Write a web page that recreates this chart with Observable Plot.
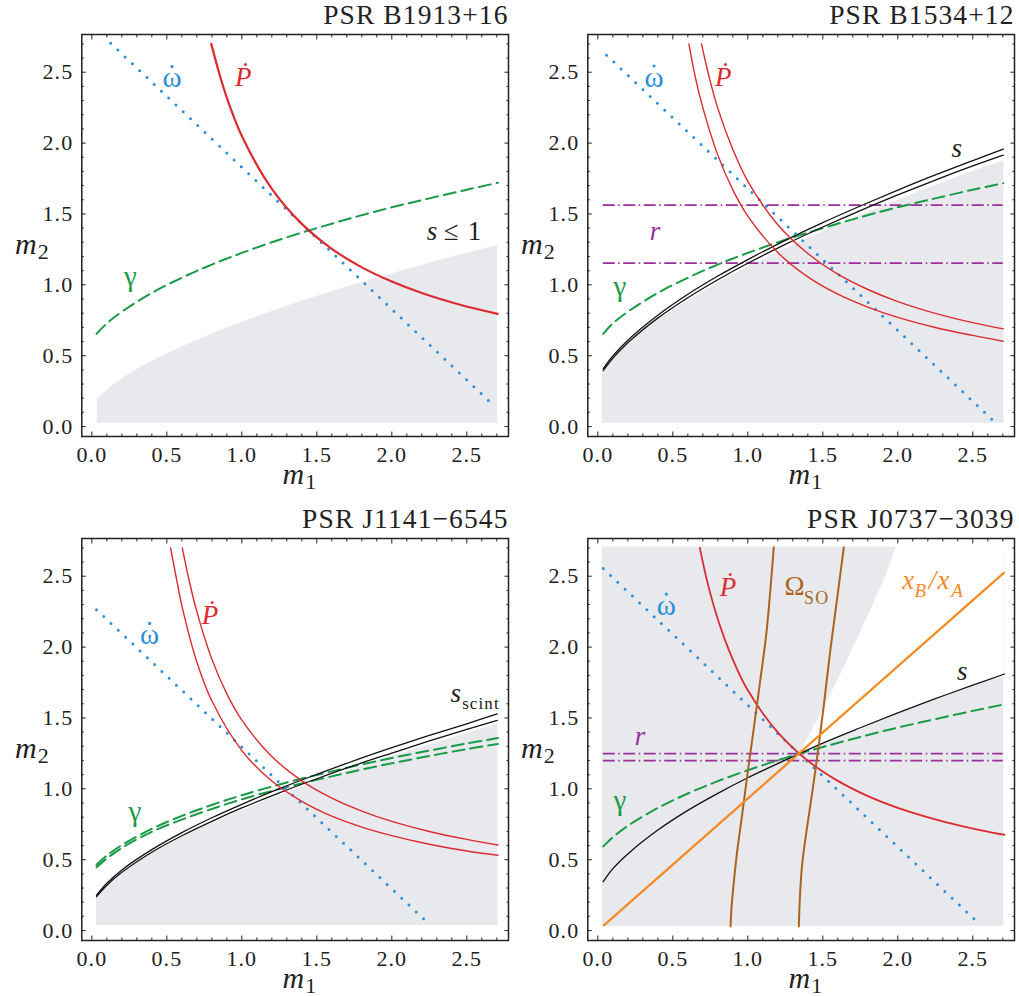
<!DOCTYPE html>
<html><head><meta charset="utf-8">
<script src="https://cdn.jsdelivr.net/npm/d3@7"></script>
<script src="https://cdn.jsdelivr.net/npm/@observablehq/plot@0.6"></script>
<style>
body{margin:0;background:#fff;}
#wrap{position:relative;width:1019px;height:996px;overflow:hidden;background:#fff;}
.panel{position:absolute;}
</style></head><body><div id="wrap"></div>
<script>
// ---------- shared axes ----------
const majorTicks = [0, 0.5, 1, 1.5, 2, 2.5];
const minorTicks = [0.1,0.2,0.3,0.4,0.6,0.7,0.8,0.9,1.1,1.2,1.3,1.4,1.6,1.7,1.8,1.9,2.1,2.2,2.3,2.4,2.6,2.7];
const xDomain = [-0.067, 2.778];
const yDomain = [-0.07, 2.766];

// ---------- PSR B1913+16 ----------
const b1913_shade_m1 = [0.036,0.06,0.1,0.2,0.4,0.6,0.8,1.0,1.25,1.5,1.75,2.0,2.25,2.5,2.705];
const b1913_shade_m2 = [0.188,0.216,0.255,0.335,0.461,0.56,0.653,0.735,0.83,0.917,1.0,1.077,1.152,1.223,1.278];
const b1913_shade_floor = 0.024;
const b1913_Pdot_m1 = [0.796,0.85,0.9,1.0,1.2,1.4,1.6,1.8,2.0,2.2,2.45,2.705];
const b1913_Pdot_m2 = [2.70,2.49,2.32,2.05,1.677,1.43,1.254,1.123,1.023,0.942,0.861,0.795];
const b1913_omdot_m1 = [0.125, 2.676];
const b1913_omdot_m2 = [2.705, 0.152];
const b1913_gamma_m1 = [0.031,0.1,0.2,0.4,0.6,0.8,1.0,1.25,1.5,1.75,2.0,2.25,2.5,2.707];
const b1913_gamma_m2 = [0.654,0.728,0.81,0.943,1.05,1.143,1.225,1.318,1.40,1.477,1.547,1.61,1.671,1.72];
const b1913_label_x = {omdot: 0.538, Pdot: 1.013, gamma: 0.26, s: 2.271, le: 2.347};
const b1913_label_y = {omdot: 2.395, Pdot: 2.406, gamma: 0.995, s: 1.313, le: 1.313};

// ---------- PSR B1534+12 ----------
const b1534_shade_m1 = [0.029,0.06,0.1,0.2,0.4,0.6,0.8,1.0,1.25,1.5,1.75,2.0,2.25,2.5,2.707];
const b1534_shade_m2 = [0.367,0.412,0.465,0.573,0.744,0.886,1.011,1.125,1.252,1.376,1.49,1.597,1.70,1.80,1.873];
const b1534_shade_floor = 0.024;
const b1534_s_m1 = [0.036,0.1,0.2,0.4,0.6,0.8,1.0,1.25,1.5,1.75,2.0,2.25,2.5,2.703];
const b1534_sHi_m2 = [0.408,0.498,0.609,0.785,0.933,1.062,1.178,1.314,1.439,1.556,1.668,1.775,1.876,1.958];
const b1534_sLo_m2 = [0.394,0.481,0.591,0.765,0.909,1.036,1.152,1.285,1.408,1.524,1.634,1.739,1.839,1.915];
const b1534_PdotA_m1 = [0.607,0.65,0.7,0.8,0.9,1.0,1.2,1.4,1.6,1.8,2.0,2.25,2.5,2.703];
const b1534_PdotA_m2 = [2.70,2.464,2.25,1.915,1.67,1.485,1.228,1.056,0.934,0.843,0.77,0.699,0.643,0.602];
const b1534_PdotB_m1 = [0.691,0.74,0.8,0.9,1.0,1.2,1.4,1.6,1.8,2.0,2.25,2.5,2.703];
const b1534_PdotB_m2 = [2.70,2.475,2.245,1.955,1.73,1.424,1.221,1.075,0.967,0.882,0.799,0.733,0.689];
const b1534_omdot_m1 = [0.058, 2.652];
const b1534_omdot_m2 = [2.62, 0.026];
const b1534_gamma_m1 = [0.036,0.1,0.2,0.4,0.6,0.8,1.0,1.25,1.5,1.75,2.0,2.25,2.5,2.703];
const b1534_gamma_m2 = [0.654,0.728,0.81,0.943,1.05,1.143,1.225,1.318,1.40,1.477,1.547,1.61,1.671,1.717];
const b1534_r_m1 = [0.036, 2.703];
const b1534_r_m2 = [1.562, 1.153];
const b1534_label_x = {omdot: 0.378, Pdot: 0.84, s: 2.396, r: 0.385, gamma: 0.151};
const b1534_label_y = {omdot: 2.399, Pdot: 2.406, s: 1.901, r: 1.317, gamma: 0.924};

// ---------- PSR J1141-6545 ----------
const j1141_shade_m1 = [0.031,0.06,0.1,0.2,0.4,0.6,0.8,1.0,1.25,1.5,1.75,2.0,2.25,2.5,2.707];
const j1141_shade_m2 = [0.23,0.267,0.311,0.40,0.54,0.654,0.755,0.847,0.951,1.05,1.141,1.229,1.311,1.391,1.458];
const j1141_shade_floor = 0.036;
const j1141_s_m1 = [0.031,0.1,0.2,0.4,0.6,0.8,1.0,1.25,1.5,1.75,2.0,2.25,2.5,2.703];
const j1141_sHi_m2 = [0.25,0.334,0.428,0.571,0.691,0.796,0.891,1.001,1.102,1.199,1.29,1.377,1.459,1.528];
const j1141_sLo_m2 = [0.239,0.32,0.411,0.553,0.669,0.771,0.865,0.972,1.071,1.165,1.252,1.338,1.419,1.483];
const j1141_gamma_m1 = [0.031,0.1,0.2,0.4,0.6,0.8,1.0,1.25,1.5,1.75,2.0,2.25,2.5,2.707];
const j1141_gammaHi_m2 = [0.465,0.529,0.603,0.718,0.809,0.886,0.955,1.03,1.098,1.16,1.218,1.27,1.32,1.358];
const j1141_gammaLo_m2 = [0.446,0.509,0.583,0.697,0.783,0.858,0.926,0.999,1.064,1.124,1.18,1.232,1.28,1.316];
const j1141_omdot_m1 = [0.031, 2.241];
const j1141_omdot_m2 = [2.264, 0.053];
const j1141_PdotA_m1 = [0.525,0.56,0.6,0.7,0.8,1.0,1.2,1.4,1.6,1.8,2.0,2.25,2.5,2.707];
const j1141_PdotA_m2 = [2.70,2.505,2.293,1.895,1.621,1.27,1.055,0.912,0.807,0.73,0.67,0.609,0.561,0.531];
const j1141_PdotB_m1 = [0.603,0.65,0.7,0.8,0.9,1.0,1.2,1.4,1.6,1.8,2.0,2.25,2.5,2.707];
const j1141_PdotB_m2 = [2.70,2.464,2.25,1.915,1.67,1.485,1.228,1.056,0.934,0.843,0.77,0.699,0.643,0.604];
const j1141_label_x = {Pdot: 0.791, omdot: 0.389, s: 2.469, gamma: 0.291};
const j1141_label_y = {Pdot: 2.163, omdot: 2.022, s: 1.613, gamma: 0.77};

// ---------- PSR J0737-3039 ----------
const j0737_shade_m1 = [0.03, 2.707];
const j0737_shade_m2 = [0.029, 2.704];
const j0737_wedge_m1 = [1.346,1.474,1.594,1.706,1.815,1.92,1.991,2.25,2.5,2.707];
const j0737_wedge_lo = [1.248,1.30,1.352,1.401,1.448,1.491,1.52,1.627,1.72,1.792];
const j0737_wedge_hi = [1.25,1.5,1.75,2.0,2.25,2.5,2.704,2.704,2.704,2.704];
const j0737_s_m1 = [0.036,0.1,0.2,0.4,0.6,0.8,1.0,1.25,1.5,1.75,2.0,2.25,2.5,2.711];
const j0737_s_m2 = [0.345,0.437,0.541,0.709,0.848,0.968,1.078,1.202,1.322,1.431,1.536,1.636,1.731,1.81];
const j0737_gamma_m1 = [0.036,0.1,0.2,0.4,0.6,0.8,1.0,1.25,1.5,1.75,2.0,2.25,2.5,2.703];
const j0737_gamma_m2 = [0.594,0.658,0.739,0.865,0.967,1.054,1.131,1.218,1.295,1.366,1.432,1.492,1.55,1.594];
const j0737_Pdot_m1 = [0.68,0.73,0.8,0.9,1.0,1.2,1.4,1.6,1.8,2.0,2.25,2.5,2.711];
const j0737_Pdot_m2 = [2.70,2.46,2.197,1.912,1.695,1.398,1.198,1.056,0.949,0.866,0.785,0.72,0.676];
const j0737_omdot_m1 = [0.036, 2.54];
const j0737_omdot_m2 = [2.554, 0.05];
const j0737_ratio_m1 = [0.04, 2.707];
const j0737_ratio_m2 = [0.037, 2.523];
const j0737_soA_m1 = [0.885,0.891,0.907,0.929,0.962,1.0,1.04,1.085,1.125,1.173];
const j0737_soA_m2 = [0.029,0.159,0.347,0.559,0.817,1.123,1.429,1.782,2.111,2.704];
const j0737_soB_m1 = [1.34,1.347,1.362,1.391,1.424,1.467,1.507,1.552,1.596,1.64];
const j0737_soB_m2 = [0.029,0.229,0.465,0.70,0.935,1.26,1.594,1.994,2.347,2.704];
const j0737_r_m1 = [0.036, 2.703];
const j0737_r_m2 = [1.248, 1.199];
const j0737_label_x = {omdot: 0.46, Pdot: 0.871, so: 1.245, ratio: 2.029, s: 2.434, r: 0.285, gamma: 0.151};
const j0737_label_y = {omdot: 2.229, Pdot: 2.358, so: 2.37, ratio: 2.412, s: 1.77, r: 1.311, gamma: 0.853};

// ---------- styling ----------
const FONT = "'Liberation Serif','Times New Roman',serif";
const C = {red:"#dc2a30", blue:"#2b8fd8", green:"#1a9a48", purple:"#9a2f9a", black:"#111", orange:"#f28b1f", brown:"#a8641f", shade:"#e8e9ed", ink:"#222"};

function curve(xs, ys, o) { return Plot.line(xs, {x: xs, y: ys, curve: "catmull-rom", ...o}); }
function shade(xs, ys, floor) { return Plot.areaY(xs, {x: xs, y1: floor, y2: ys, fill: C.shade, curve: "catmull-rom"}); }
function dotted(xs, ys) { return Plot.line(xs, {x: xs, y: ys, stroke: C.blue, strokeWidth: 3, strokeDasharray: "0 10", strokeLinecap: "round"}); }
function label(t, x, y, o) { return Plot.text([t], {x: [x], y: [y], text: d => d, lineAnchor: "bottom", textAnchor: "middle", fontSize: 27, ...o}); }
// omega-dot: omega glyph plus a small dot accent centred above it
function omdotLabel(x, y) {
  return [
    label("ω", x, y, {fill: C.blue, fontSize: 29}),
    Plot.dot([0], {x: [x], y: [y], r: 1.6, fill: C.blue, stroke: null, dx: -0.5, dy: -20.5})
  ];
}

function axes() {
  const tk = {stroke: C.ink, strokeWidth: 1, label: null, text: null};
  return [
    Plot.axisX(majorTicks, {anchor: "bottom", tickSize: -4.5, ...tk}),
    Plot.axisX(minorTicks, {anchor: "bottom", tickSize: -2.5, ...tk}),
    Plot.axisX(majorTicks, {anchor: "top", tickSize: -4.5, ...tk}),
    Plot.axisX(minorTicks, {anchor: "top", tickSize: -2.5, ...tk}),
    Plot.axisY(majorTicks, {anchor: "left", tickSize: -4.5, ...tk}),
    Plot.axisY(minorTicks, {anchor: "left", tickSize: -2.5, ...tk}),
    Plot.axisY(majorTicks, {anchor: "right", tickSize: -4.5, ...tk}),
    Plot.axisY(minorTicks, {anchor: "right", tickSize: -2.5, ...tk}),
    Plot.axisX(majorTicks, {anchor: "bottom", tickSize: 0, tickPadding: 9.5, tickFormat: ".1f", label: null, fontSize: 22, fill: C.ink}),
    Plot.axisY(majorTicks, {anchor: "left", tickSize: 0, tickPadding: 8.5, tickFormat: ".1f", label: null, fontSize: 22, fill: C.ink}),
    Plot.frame({stroke: C.ink, strokeWidth: 1.5}),
    Plot.text(["m"], {text: d => d, frameAnchor: "bottom", textAnchor: "end", lineAnchor: "bottom", dx: 10, dy: 47, fontSize: 30, fontStyle: "italic", fill: C.ink}),
    Plot.text(["1"], {text: d => d, frameAnchor: "bottom", textAnchor: "start", lineAnchor: "bottom", dx: 10, dy: 52, fontSize: 22, fill: C.ink}),
    Plot.text(["m"], {text: d => d, frameAnchor: "left", textAnchor: "end", lineAnchor: "bottom", dx: -44, dy: 18, fontSize: 30, fontStyle: "italic", fill: C.ink}),
    Plot.text(["2"], {text: d => d, frameAnchor: "left", textAnchor: "start", lineAnchor: "bottom", dx: -44, dy: 23, fontSize: 22, fill: C.ink})
  ];
}

function panel(left, top, title, marks) {
  const svg = Plot.plot({
    width: 512, height: 500,
    marginLeft: 81.3, marginRight: 4, marginTop: 34, marginBottom: 64,
    x: {domain: xDomain}, y: {domain: yDomain},
    style: {fontFamily: FONT, fontSize: "22px", color: C.ink, background: "transparent", overflow: "visible", letterSpacing: "0.05em"},
    marks: [
      ...marks,
      ...axes(),
      Plot.text([title], {text: d => d, frameAnchor: "top-right", textAnchor: "end", lineAnchor: "bottom", dx: 0, dy: -11, fontSize: 27.5, fill: C.ink, style: {letterSpacing: "0.06em"}})
    ]
  });
  const div = document.createElement("div");
  div.className = "panel";
  div.style.left = left + "px";
  div.style.top = top + "px";
  div.append(svg);
  document.getElementById("wrap").append(div);
}

// ---- Panel 1 ----
panel(0, 0, "PSR B1913+16", [
  shade(b1913_shade_m1, b1913_shade_m2, b1913_shade_floor),
  curve(b1913_gamma_m1, b1913_gamma_m2, {stroke: C.green, strokeWidth: 2, strokeDasharray: "12 6"}),
  dotted(b1913_omdot_m1, b1913_omdot_m2),
  curve(b1913_Pdot_m1, b1913_Pdot_m2, {stroke: C.red, strokeWidth: 2.2}),
  ...omdotLabel(b1913_label_x.omdot, b1913_label_y.omdot),
  label("Ṗ", b1913_label_x.Pdot, b1913_label_y.Pdot, {fill: C.red, fontStyle: "italic"}),
  label("γ", b1913_label_x.gamma, b1913_label_y.gamma, {fill: C.green, fontSize: 29}),
  label("s", b1913_label_x.s, b1913_label_y.s, {fill: C.ink, fontStyle: "italic"}),
  label("≤ 1", b1913_label_x.le, b1913_label_y.le, {fill: C.ink, textAnchor: "start"})
]);

// ---- Panel 2 ----
panel(506, 0, "PSR B1534+12", [
  shade(b1534_shade_m1, b1534_shade_m2, b1534_shade_floor),
  Plot.ruleY(b1534_r_m2, {y: d => d, x1: b1534_r_m1[0], x2: b1534_r_m1[1], stroke: C.purple, strokeWidth: 1.8, strokeDasharray: "12 3.5 1.5 3.5"}),
  curve(b1534_gamma_m1, b1534_gamma_m2, {stroke: C.green, strokeWidth: 2, strokeDasharray: "12 6"}),
  curve(b1534_s_m1, b1534_sHi_m2, {stroke: C.black, strokeWidth: 1.3}),
  curve(b1534_s_m1, b1534_sLo_m2, {stroke: C.black, strokeWidth: 1.3}),
  dotted(b1534_omdot_m1, b1534_omdot_m2),
  curve(b1534_PdotA_m1, b1534_PdotA_m2, {stroke: C.red, strokeWidth: 1.4}),
  curve(b1534_PdotB_m1, b1534_PdotB_m2, {stroke: C.red, strokeWidth: 1.4}),
  ...omdotLabel(b1534_label_x.omdot, b1534_label_y.omdot),
  label("Ṗ", b1534_label_x.Pdot, b1534_label_y.Pdot, {fill: C.red, fontStyle: "italic"}),
  label("s", b1534_label_x.s, b1534_label_y.s, {fill: C.ink, fontStyle: "italic"}),
  label("r", b1534_label_x.r, b1534_label_y.r, {fill: C.purple, fontStyle: "italic"}),
  label("γ", b1534_label_x.gamma, b1534_label_y.gamma, {fill: C.green, fontSize: 29})
]);

// ---- Panel 3 ----
panel(0, 504, "PSR J1141−6545", [
  shade(j1141_shade_m1, j1141_shade_m2, j1141_shade_floor),
  curve(j1141_gamma_m1, j1141_gammaHi_m2, {stroke: C.green, strokeWidth: 2, strokeDasharray: "12 6"}),
  curve(j1141_gamma_m1, j1141_gammaLo_m2, {stroke: C.green, strokeWidth: 2, strokeDasharray: "12 6"}),
  curve(j1141_s_m1, j1141_sHi_m2, {stroke: C.black, strokeWidth: 1.3}),
  curve(j1141_s_m1, j1141_sLo_m2, {stroke: C.black, strokeWidth: 1.3}),
  dotted(j1141_omdot_m1, j1141_omdot_m2),
  curve(j1141_PdotA_m1, j1141_PdotA_m2, {stroke: C.red, strokeWidth: 1.4}),
  curve(j1141_PdotB_m1, j1141_PdotB_m2, {stroke: C.red, strokeWidth: 1.4}),
  label("Ṗ", j1141_label_x.Pdot, j1141_label_y.Pdot, {fill: C.red, fontStyle: "italic"}),
  ...omdotLabel(j1141_label_x.omdot, j1141_label_y.omdot),
  label("s", j1141_label_x.s, j1141_label_y.s, {fill: C.ink, fontStyle: "italic", textAnchor: "end"}),
  label("scint", j1141_label_x.s, j1141_label_y.s, {fill: C.ink, textAnchor: "start", fontSize: 17, dy: 7}),
  label("γ", j1141_label_x.gamma, j1141_label_y.gamma, {fill: C.green, fontSize: 29})
]);

// ---- Panel 4 ----
panel(506, 504, "PSR J0737−3039", [
  Plot.rect([0], {x1: j0737_shade_m1[0], x2: j0737_shade_m1[1], y1: j0737_shade_m2[0], y2: j0737_shade_m2[1], fill: C.shade}),
  Plot.areaY(j0737_wedge_m1, {x: j0737_wedge_m1, y1: j0737_wedge_lo, y2: j0737_wedge_hi, fill: "white"}),
  Plot.ruleY(j0737_r_m2, {y: d => d, x1: j0737_r_m1[0], x2: j0737_r_m1[1], stroke: C.purple, strokeWidth: 1.8, strokeDasharray: "12 3.5 1.5 3.5"}),
  curve(j0737_gamma_m1, j0737_gamma_m2, {stroke: C.green, strokeWidth: 2, strokeDasharray: "12 6"}),
  curve(j0737_s_m1, j0737_s_m2, {stroke: C.black, strokeWidth: 1.3}),
  dotted(j0737_omdot_m1, j0737_omdot_m2),
  curve(j0737_Pdot_m1, j0737_Pdot_m2, {stroke: C.red, strokeWidth: 1.8}),
  curve(j0737_soA_m1, j0737_soA_m2, {stroke: C.brown, strokeWidth: 2}),
  curve(j0737_soB_m1, j0737_soB_m2, {stroke: C.brown, strokeWidth: 2}),
  Plot.line(j0737_ratio_m1, {x: j0737_ratio_m1, y: j0737_ratio_m2, stroke: C.orange, strokeWidth: 2.2}),
  ...omdotLabel(j0737_label_x.omdot, j0737_label_y.omdot),
  label("Ṗ", j0737_label_x.Pdot, j0737_label_y.Pdot, {fill: C.red, fontStyle: "italic"}),
  label("Ω", j0737_label_x.so, j0737_label_y.so, {fill: C.brown, textAnchor: "start"}),
  label("SO", j0737_label_x.so, j0737_label_y.so, {fill: C.brown, textAnchor: "start", fontSize: 18, dx: 19.5, dy: 9}),
  label("x", j0737_label_x.ratio, j0737_label_y.ratio, {fill: C.orange, textAnchor: "start", fontStyle: "italic"}),
  label("B", j0737_label_x.ratio, j0737_label_y.ratio, {fill: C.orange, textAnchor: "start", fontStyle: "italic", fontSize: 19, dx: 12.3, dy: 8}),
  label("/x", j0737_label_x.ratio, j0737_label_y.ratio, {fill: C.orange, textAnchor: "start", fontStyle: "italic", dx: 26.7}),
  label("A", j0737_label_x.ratio, j0737_label_y.ratio, {fill: C.orange, textAnchor: "start", fontStyle: "italic", fontSize: 19, dx: 49, dy: 8}),
  label("s", j0737_label_x.s, j0737_label_y.s, {fill: C.ink, fontStyle: "italic"}),
  label("r", j0737_label_x.r, j0737_label_y.r, {fill: C.purple, fontStyle: "italic"}),
  label("γ", j0737_label_x.gamma, j0737_label_y.gamma, {fill: C.green, fontSize: 29})
]);
</script></body></html>
